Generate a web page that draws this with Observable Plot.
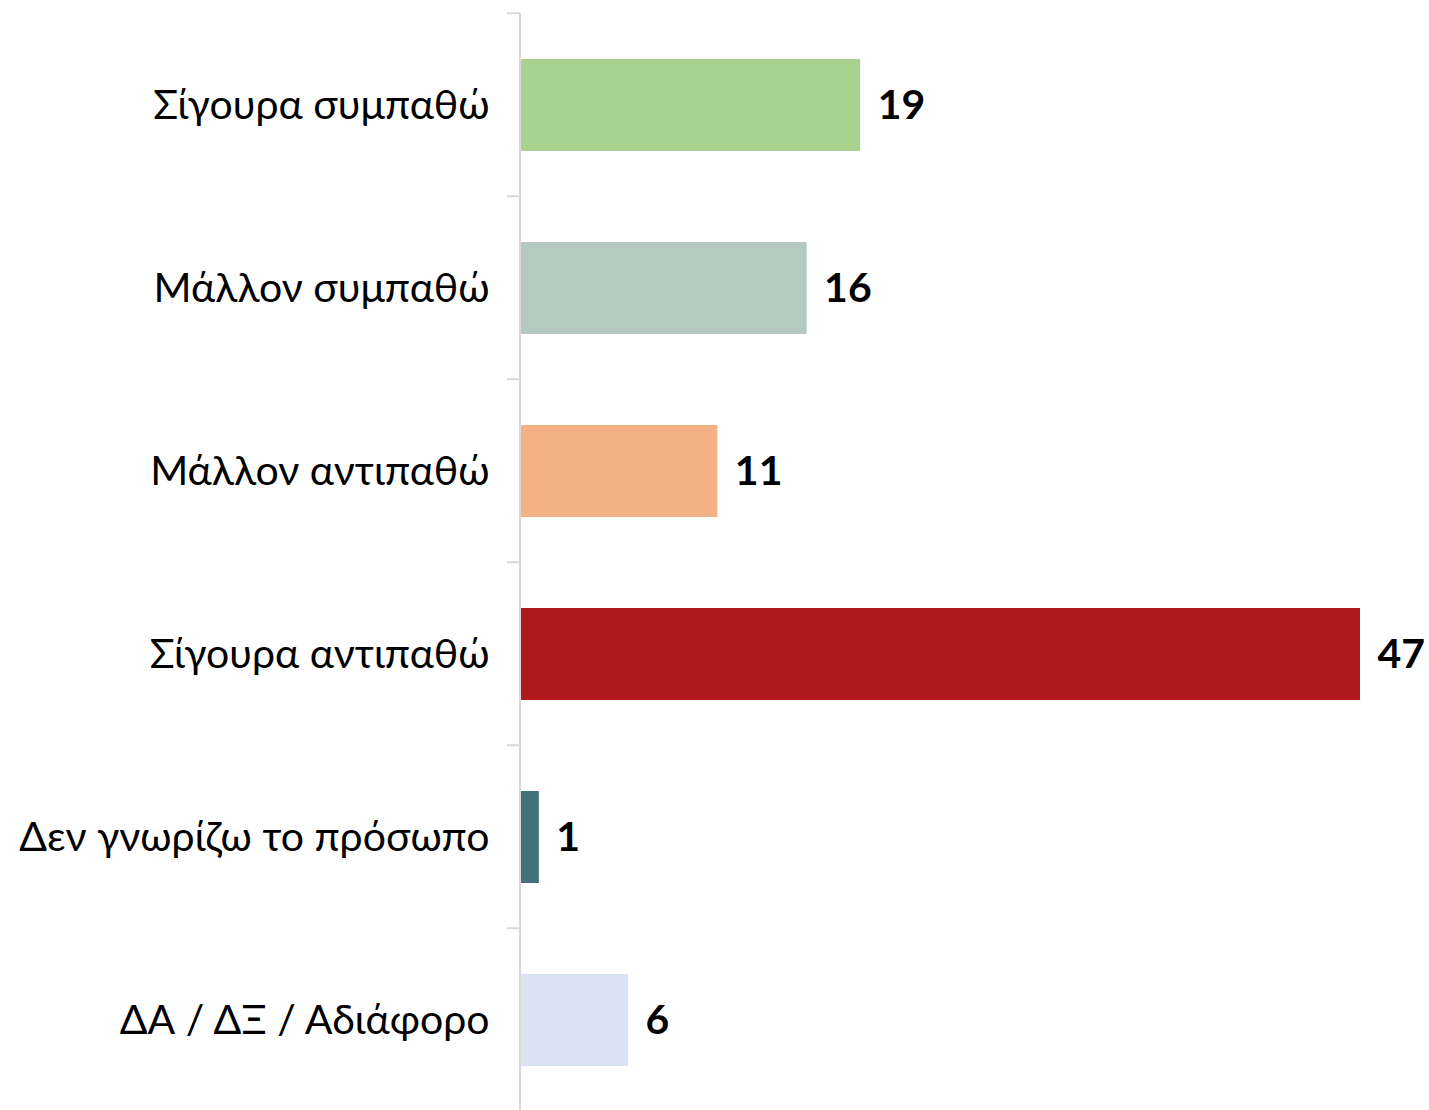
<!DOCTYPE html>
<html>
<head>
<meta charset="utf-8">
<script src="https://cdn.jsdelivr.net/npm/d3@7"></script>
<script src="https://cdn.jsdelivr.net/npm/@observablehq/plot@0.6"></script>
<style>
  html, body { margin: 0; padding: 0; background: #fff; }
  #chart { width: 1429px; height: 1110px; overflow: hidden; }
</style>
</head>
<body>
<div id="chart"></div>
<script>
const categories = [
  "Σίγουρα συμπαθώ",
  "Μάλλον συμπαθώ",
  "Μάλλον αντιπαθώ",
  "Σίγουρα αντιπαθώ",
  "Δεν γνωρίζω το πρόσωπο",
  "ΔΑ / ΔΞ / Αδιάφορο"
];
const values = [19, 16, 11, 47, 1, 6];
const colors = ["#a9d18e", "#b4c9c0", "#f4b183", "#b2191a", "#44707a", "#dae3f3"];

const data = categories.map((c, i) => ({category: c, value: values[i], color: colors[i]}));

const chart = Plot.plot({
  width: 1429,
  height: 1110,
  marginLeft: 521,
  marginRight: 69,
  marginTop: 12,
  marginBottom: 0,
  style: {fontFamily: "Lato, 'Noto Sans', sans-serif", background: "#fff"},
  x: {domain: [0, 47], axis: null},
  y: {domain: categories, range: [12, 1112], paddingInner: 0.5, paddingOuter: 0.25, label: null},
  marks: [
    Plot.barX(data, {y: "category", x: "value", fill: "color"}),
    Plot.axisY({
      tickSize: 0,
      tickPadding: 32,
      fontSize: 41,
      fill: "#000",
      label: null
    }),
    Plot.text(data, {
      y: "category", x: "value", text: d => String(d.value),
      textAnchor: "start", dx: 17, fontSize: 41, fontWeight: "bold", fill: "#000"
    })
  ]
});

document.getElementById("chart").appendChild(chart);

// Axis line and boundary ticks from the y band scale
const yS = chart.scale("y");
const bandStep = yS.step;
const firstEdge = yS.apply(categories[0]) - bandStep * 0.25;
const svgSel = d3.select(chart);
const g = svgSel.append("g").attr("stroke", "#d9d9d9").attr("stroke-width", 2);
const bounds = d3.range(categories.length + 1).map(i => firstEdge + i * bandStep);
g.append("line").attr("x1", 520).attr("x2", 520).attr("y1", bounds[0]).attr("y2", bounds[bounds.length - 1]);
bounds.slice(0, -1).forEach(b => {
  g.append("line").attr("x1", 507).attr("x2", 520).attr("y1", b).attr("y2", b);
});
</script>
</body>
</html>
